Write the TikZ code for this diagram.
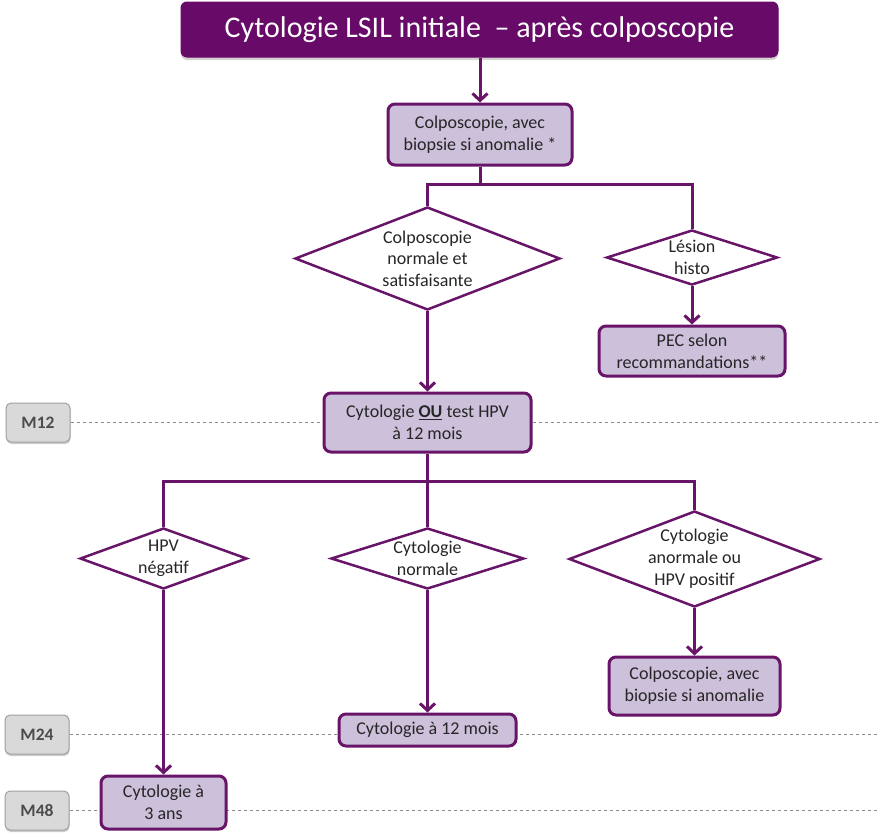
\documentclass[tikz,border=0pt]{standalone}
\usepackage{fontspec}
\setmainfont{Carlito}
\usetikzlibrary{shapes.geometric,arrows.meta,shadows}
\definecolor{titlepurple}{RGB}{104,10,104}
\definecolor{linepurple}{RGB}{104,20,104}
\definecolor{boxfill}{RGB}{204,192,218}
\definecolor{labfill}{RGB}{217,217,217}
\definecolor{labdraw}{RGB}{160,160,160}
\definecolor{dashgray}{RGB}{140,140,140}
\tikzset{
  titlebox/.style={draw=titlepurple, fill=titlepurple, rounded corners=6pt, text=white,
    font=\fontsize{30}{36}\selectfont, line width=1pt,
    drop shadow={opacity=0.35, shadow xshift=0pt, shadow yshift=-3pt}},
  actbox/.style={draw=linepurple, fill=boxfill, rounded corners=7pt, line width=3pt,
    align=center, font=\fontsize{18}{22}\selectfont, text=black!85, inner sep=0pt},
  decision/.style={diamond, draw=linepurple, fill=white, line width=2.5pt, inner sep=0pt},
  dtext/.style={align=center, font=\fontsize{18}{21.5}\selectfont, text=black!85, inner sep=0pt},
  monthlab/.style={draw=labdraw, fill=labfill, rounded corners=5pt, line width=1pt,
    font=\bfseries\fontsize{17.5}{20}\selectfont, text=black!70,
    minimum width=64pt, minimum height=39pt, inner sep=0pt,
    drop shadow={opacity=0.4, shadow xshift=0.5pt, shadow yshift=-2pt}},
  flow/.style={draw=linepurple, line width=3pt},
  flowarrow/.style={flow, -{Straight Barb[length=7pt,width=15pt,line width=3pt]}},
  timeline/.style={draw=dashgray, dashed, line width=0.8pt}
}
\begin{document}
\begin{tikzpicture}[x=1pt,y=-1pt]
\useasboundingbox (0,0) rectangle (880,836);

% month labels and timelines
\node[monthlab] (m12) at (38,422.5) {M12};
\node[monthlab] (m24) at (37,734.5) {M24};
\node[monthlab] (m48) at (37,810.5) {M48};
\coordinate (e12) at (880,422.5);
\coordinate (e24) at (880,734.5);
\coordinate (e48) at (880,810.5);
\draw[timeline] (m12.east) -- (e12);
\draw[timeline] (m24.east) -- (e24);
\draw[timeline] (m48.east) -- (e48);

% title
\node[titlebox, minimum width=597pt, minimum height=55pt] (title) at (479.5,29.5)
  {Cytologie LSIL initiale \ – après colposcopie};

% first box
\node[actbox, minimum width=184pt, minimum height=61pt] (b1) at (480,134.5)
  {Colposcopie, avec\\biopsie si anomalie *};

% first decisions
\node[decision, minimum width=265pt, minimum height=103pt] (d1) at (427.5,258.5) {};
\node[dtext] (d1t) at (d1.center) {Colposcopie\\normale et\\satisfaisante};
\node[decision, minimum width=171pt, minimum height=55pt] (d2) at (692,257.5) {};
\node[dtext] (d2t) at (d2.center) {Lésion\\histo};
\node[actbox, minimum width=186pt, minimum height=50pt] (b2) at (692,351)
  {PEC selon\\recommandations**};

% M12 box
\node[actbox, minimum width=207pt, minimum height=59pt] (b3) at (427.5,422.5)
  {Cytologie \underline{\textbf{OU}} test HPV\\à 12 mois};

% second decisions
\node[decision, minimum width=167pt, minimum height=61pt] (d3) at (163.5,558.5) {};
\node[dtext] (d3t) at (d3.center) {HPV\\négatif};
\node[decision, minimum width=193pt, minimum height=61pt] (d4) at (427.5,558.5) {};
\node[dtext] (d4t) at (d4.center) {Cytologie\\normale};
\node[decision, minimum width=251pt, minimum height=96pt] (d5) at (694.5,559) {};
\node[dtext, font=\fontsize{18}{22}\selectfont] (d5t) at (d5.center) {Cytologie\\anormale ou\\HPV positif};

% final boxes
\node[actbox, minimum width=171pt, minimum height=58pt] (b4) at (694.5,686)
  {Colposcopie, avec\\biopsie si anomalie};
\node[actbox, minimum width=177pt, minimum height=32pt] (b5) at (427.5,730)
  {Cytologie à 12 mois};
\node[actbox, minimum width=125pt, minimum height=53pt] (b6) at (163.5,802.5)
  {Cytologie à\\3 ans};

% connectors
\draw[flowarrow] (title.south -| b1.north) -- (b1.north);

\coordinate (j1) at (480,184);
\draw[flow] (b1.south) -- (j1);
\draw[flow] (d1.north) |- (j1) -| (d2.north);

\draw[flowarrow] (d2.south) -- (d2.south |- b2.north);
\draw[flowarrow] (d1.south) -- (d1.south |- b3.north);

\coordinate (j2) at (427.5,481);
\draw[flow] (b3.south) -- (j2);
\draw[flow] (d3.north) |- (j2) -| (d5.north);
\draw[flow] (j2) -- (d4.north);

\draw[flowarrow] (d3.south) -- (d3.south |- b6.north);
\draw[flowarrow] (d4.south) -- (d4.south |- b5.north);
\draw[flowarrow] (d5.south) -- (d5.south |- b4.north);
\end{tikzpicture}
\end{document}
